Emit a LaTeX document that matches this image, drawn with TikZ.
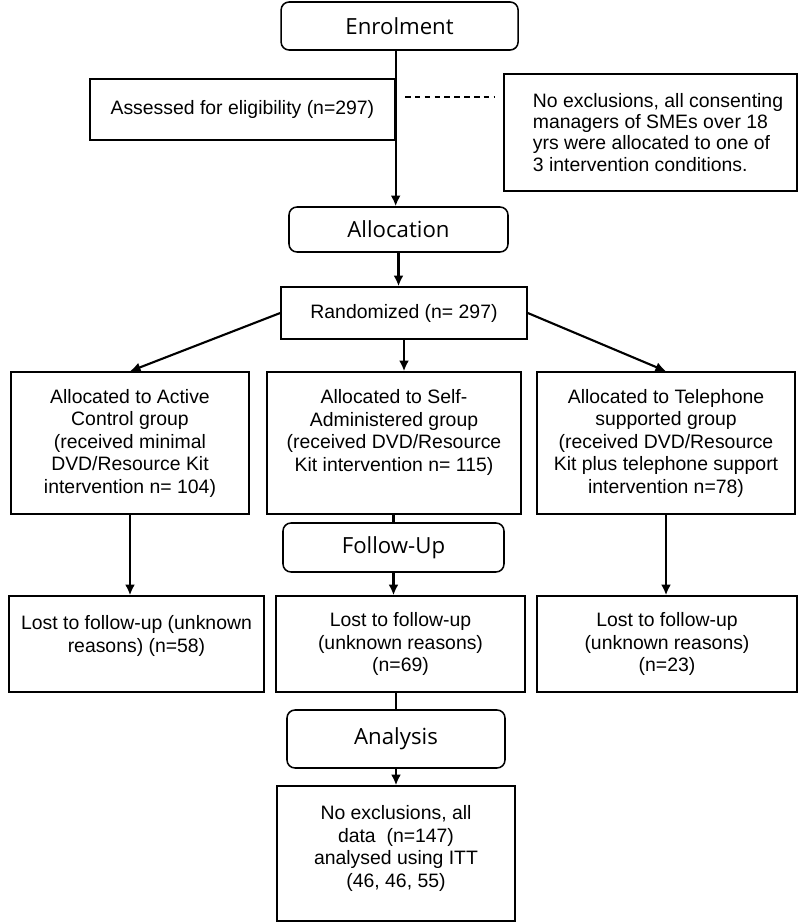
\documentclass[tikz,border=0pt]{standalone}
\usepackage{fontspec}
\usetikzlibrary{arrows.meta}
\setmainfont{Liberation Sans}
\newfontfamily\headfont{Open Sans}
\begin{document}
\begin{tikzpicture}
    \tikzset{box/.style={draw=black, line width=1.1pt, align=center, inner sep=2pt,
            font=\fontsize{13.8}{16}\selectfont},
        stage/.style={draw=black, line width=1.1pt, rounded corners=0.2cm,
            font=\headfont\fontsize{15.8}{18}\selectfont},
        flow/.style={line width=1.5pt},
        tip/.style={-{Latex[length=7.5pt,width=7pt]}}}
    \useasboundingbox (0,0) rectangle (20,-23.075);

    %Enrolment
    \node[stage, minimum width=5.925cm, minimum height=1.2cm] (enrol) at (9.99,-0.65) {Enrolment};
    \node[box, minimum width=7.625cm, minimum height=1.525cm] (assess) at (6.06,-2.7375)
        {Assessed for eligibility (n=297)};
    \node[box, inner xsep=0pt, minimum width=7.325cm, minimum height=2.925cm,
        font=\fontsize{13.8}{15}\selectfont] (excl) at (16.26,-3.3125)
        {\hspace*{0.725cm}\parbox{6.6cm}{\raggedright No exclusions, all consenting\\managers of SMEs over 18\\yrs were allocated to one of\\3 intervention conditions.}};
    \coordinate (dashL) at (10.125,-2.425);
    \draw[line width=1.1pt, dash pattern=on 4pt off 3pt] (dashL) -- ([xshift=-0.225cm]dashL -| excl.west);

    %Allocation
    \node[stage, minimum width=5.475cm, minimum height=1.125cm] (alloc) at (9.9625,-5.7375) {Allocation};
    \draw[flow, tip] (enrol.south -| assess.east) -- (alloc.north -| assess.east);
    \node[box, minimum width=6.15cm, minimum height=1.3cm] (rand) at (10.1,-7.825) {Randomized (n= 297)};
    \draw[flow, tip] (alloc.south) -- (alloc.south |- rand.north);

    \node[box, minimum width=5.95cm, minimum height=3.55cm] (grpA) at (3.25,-11.075)
        {Allocated to Active\\Control group\\(received minimal\\DVD/Resource Kit\\intervention n= 104)};
    \node[box, minimum width=6.35cm, minimum height=3.55cm] (grpB) at (9.85,-11.075)
        {Allocated to Self-\\Administered group\\(received DVD/Resource\\Kit intervention n= 115)\\[2pt]};
    \node[box, minimum width=6.45cm, minimum height=3.55cm] (grpC) at (16.65,-11.075)
        {Allocated to Telephone\\supported group\\(received DVD/Resource\\Kit plus telephone support\\intervention n=78)};
    \draw[flow, tip] (rand.west) -- (grpA.north);
    \draw[flow, tip] (rand.south) -- (rand.south |- grpB.north);
    \draw[flow, tip] (rand.east) -- (grpC.north);

    %Follow-Up
    \node[stage, minimum width=5.525cm, minimum height=1.225cm] (follow) at (9.8375,-13.6875) {Follow-Up};
    \draw[flow] (follow.north |- grpB.south) -- (follow.north);

    \node[box, minimum width=6.375cm, minimum height=2.4cm] (lostA) at (3.4125,-16.1)
        {Lost to follow-up (unknown\\reasons) (n=58)\\[-2pt]};
    \node[box, minimum width=6.225cm, minimum height=2.4cm] (lostB) at (10.0125,-16.1)
        {Lost to follow-up\\(unknown reasons)\\(n=69)};
    \node[box, minimum width=6.5cm, minimum height=2.4cm] (lostC) at (16.675,-16.1)
        {Lost to follow-up\\(unknown reasons)\\(n=23)};
    \draw[flow, tip] (grpA.south) -- (grpA.south |- lostA.north);
    \draw[flow, tip] (follow.south) -- (follow.south |- lostB.north);
    \draw[flow, tip] (grpC.south) -- (grpC.south |- lostC.north);

    %Analysis
    \node[stage, minimum width=5.45cm, minimum height=1.45cm] (analysis) at (9.9,-18.475) {Analysis};
    \draw[flow] (analysis.north |- lostB.south) -- (analysis.north);
    \node[box, minimum width=5.95cm, minimum height=3.375cm] (final) at (9.9,-21.3375)
        {No exclusions, all\\data~~(n=147)\\analysed using ITT\\(46, 46, 55)\\[-6pt]};
    \draw[flow, tip] (analysis.south) -- (analysis.south |- final.north);

\end{tikzpicture}
\end{document}
